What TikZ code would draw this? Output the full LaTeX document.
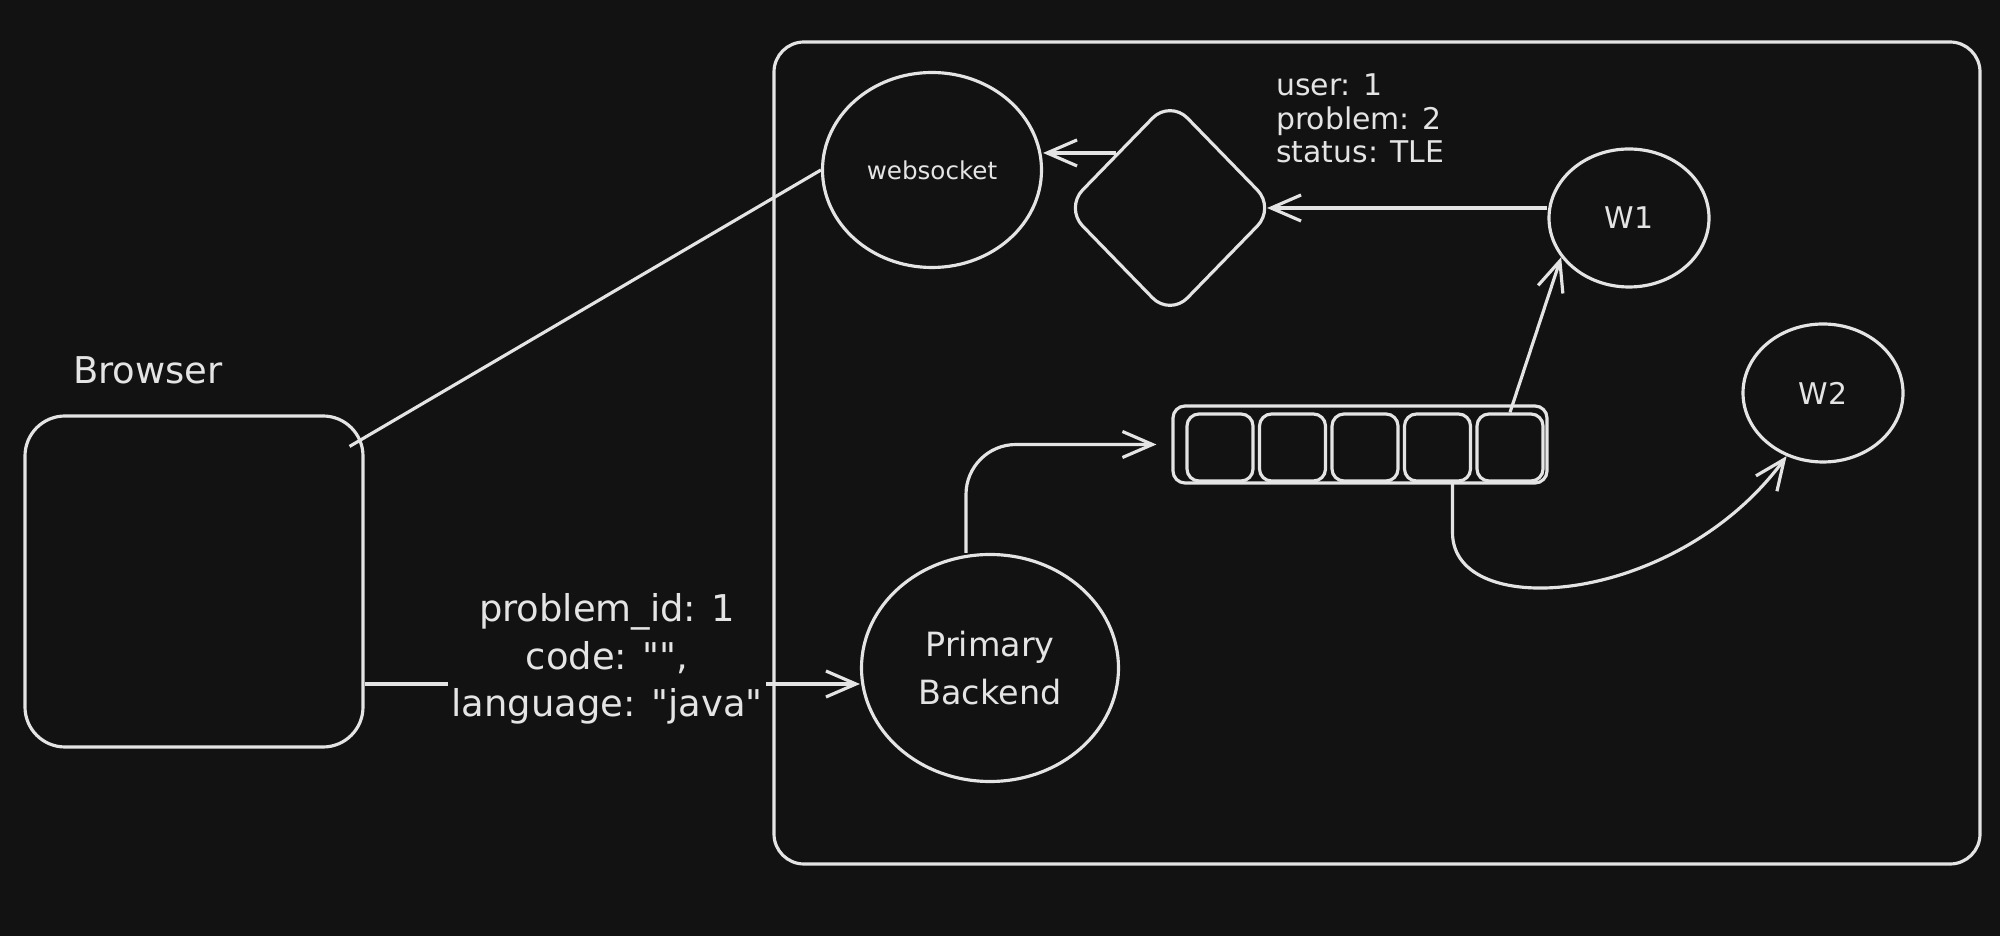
\documentclass[tikz,border=0pt]{standalone}
\usepackage{fontspec}
\setmainfont{DejaVu Sans}
\usepackage{tikz}
\usetikzlibrary{arrows.meta,positioning,shapes.geometric,calc}
\definecolor{boardbg}{RGB}{18,18,18}
\definecolor{chalk}{RGB}{228,228,228}
\tikzset{
  blob/.style={ellipse, draw=chalk, line width=0.9pt, inner sep=0pt, text=chalk},
  panel/.style={rectangle, draw=chalk, line width=0.9pt, inner sep=0pt},
  slot/.style={rectangle, rounded corners=1.2mm, draw=chalk, line width=0.9pt, minimum width=0.66cm, minimum height=0.67cm, inner sep=0pt},
  gate/.style={diamond, rounded corners=2.5mm, draw=chalk, line width=0.9pt, minimum width=2.11cm, minimum height=2.17cm, inner sep=0pt},
  note/.style={text=chalk, inner sep=1pt},
  bigtxt/.style={font=\fontsize{10.5}{13.6}\selectfont},
  midtxt/.style={font=\fontsize{8.5}{9.5}\selectfont},
  tinytxt/.style={font=\fontsize{7}{8}\selectfont},
  link/.style={draw=chalk, line width=0.9pt},
  flow/.style={link, -{Straight Barb[length=3mm,width=2.6mm]}}
}

\begin{document}
\begin{tikzpicture}
  \useasboundingbox (0,0) rectangle (20,-9.36);
  \fill[boardbg] (0,0) rectangle (20,-9.36);

  % client side
  \node[panel, rounded corners=4mm, minimum width=3.38cm, minimum height=3.31cm] (browser) at (1.94,-5.815) {};
  \node[note, bigtxt] (browserlbl) at (1.48,-3.70) {Browser};

  % server side
  \node[blob, tinytxt, minimum width=2.19cm, minimum height=1.95cm] (ws) at (9.32,-1.70) {websocket};
  \node[gate] (dia) at (11.70,-2.08) {};
  \node[note, midtxt, align=left, anchor=west] (status) at (12.72,-1.185) {user: 1\\problem: 2\\status: TLE};
  \node[blob, midtxt, minimum width=1.60cm, minimum height=1.38cm] (w1) at (16.29,-2.18) {W1};
  \node[blob, midtxt, minimum width=1.60cm, minimum height=1.38cm] (w2) at (18.23,-3.93) {W2};

  \node[panel, rounded corners=1.2mm, minimum width=3.74cm, minimum height=0.77cm] (queue) at (13.60,-4.445) {};
  \foreach \i in {1,...,5}
    \node[slot] (q\i) at ({11.475+0.725*\i},-4.475) {};

  \node[blob, font=\fontsize{9.5}{13.6}\selectfont, align=center, minimum width=2.57cm, minimum height=2.27cm] (backend) at (9.90,-6.68) {Primary\\Backend};

  % connectors
  \draw[link] ([xshift=-0.15cm,yshift=-0.32cm]browser.north east) -- (ws.west);
  \draw[flow] ([yshift=-1.025cm]browser.east) -- ([yshift=-0.16cm]backend.west)
    node[midway, note, bigtxt, align=center, fill=boardbg, xshift=-0.05cm, yshift=0.25cm] (payload)
    {problem\_id: 1\\code: \textquotedbl\textquotedbl,\\language: \textquotedbl java\textquotedbl};
  \draw[flow, rounded corners=0.5cm] ([xshift=-0.24cm]backend.north) |- ([xshift=-0.15cm]queue.west);
  \draw[flow] (q5.north) -- (w1.210);
  \draw[flow] ([xshift=0.15cm]q4.south) -- ++(0,-0.5) .. controls +(0,-0.9) and +(-1.1,-1.5) .. (w2.240);
  \draw[flow] (w1.west |- dia.east) -- ([xshift=-0.1cm]dia.east);
  \draw[flow] (dia.north west) -- (ws.east |- dia.north west);

  % drawn last so the label fill does not hide its edge
  \node[panel, rounded corners=3mm, minimum width=12.06cm, minimum height=8.22cm] (server) at (13.77,-4.53) {};
\end{tikzpicture}
\end{document}
